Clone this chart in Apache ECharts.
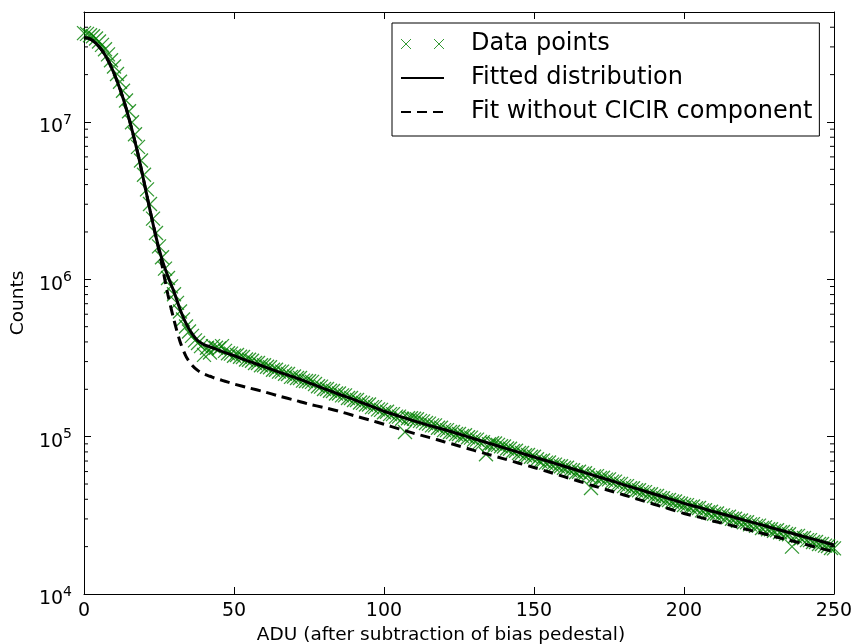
<!DOCTYPE html>
<html>
<head>
<meta charset="utf-8">
<script src="https://cdn.jsdelivr.net/npm/echarts@6/dist/echarts.min.js"></script>
<style>
  html, body { margin: 0; padding: 0; background: #fff; }
  #chart { width: 855px; height: 644px; }
</style>
</head>
<body>
<div id="chart"></div>
<script>
// measured counts, one per ADU value 0..250
const dataCounts = [
  3.67e7, 3.63e7, 3.56e7, 3.51e7, 3.39e7, 3.25e7, 3.09e7, 2.90e7, 2.69e7, 2.47e7,
  2.25e7, 2.02e7, 1.80e7, 1.58e7, 1.37e7, 1.17e7, 9.95e6, 8.36e6, 6.95e6, 5.69e6,
  4.62e6, 3.73e6, 3.01e6, 2.43e6, 1.97e6,
  1.62e6, 1.38e6, 1.17e6, 1.02e6, 9.02e5, 8.04e5, 7.08e5, 6.24e5, 5.56e5, 5.01e5,
  4.66e5, 4.37e5, 4.09e5, 3.94e5, 3.76e5, 3.31e5, 3.67e5, 3.43e5, 3.76e5, 3.67e5,
  3.63e5, 3.76e5, 3.51e5, 3.39e5, 3.37e5, 3.27e5,
  3.30e5, 3.22e5, 3.21e5, 3.09e5, 3.08e5, 3.04e5, 2.94e5, 2.94e5, 2.84e5, 2.84e5,
  2.78e5, 2.76e5, 2.66e5, 2.66e5, 2.59e5, 2.59e5, 2.51e5, 2.50e5, 2.40e5, 2.41e5,
  2.36e5, 2.36e5, 2.27e5, 2.26e5, 2.25e5, 2.23e5, 2.16e5, 2.09e5, 2.08e5, 2.01e5,
  2.01e5, 1.96e5, 1.95e5, 1.88e5, 1.88e5, 1.83e5, 1.83e5, 1.76e5, 1.76e5, 1.71e5,
  1.71e5, 1.65e5, 1.64e5, 1.60e5, 1.60e5, 1.54e5, 1.54e5, 1.49e5, 1.48e5, 1.43e5,
  1.44e5, 1.39e5, 1.39e5, 1.34e5, 1.34e5, 1.30e5, 1.07e5, 1.31e5, 1.31e5, 1.30e5,
  1.29e5, 1.26e5, 1.25e5, 1.22e5, 1.21e5, 1.18e5, 1.18e5, 1.14e5, 1.14e5, 1.10e5,
  1.10e5, 1.07e5, 1.07e5, 1.04e5, 1.04e5, 1.01e5, 1.02e5, 9.91e4, 9.86e4, 9.57e4,
  9.57e4, 9.27e4, 9.23e4, 7.73e4, 8.95e4, 9.08e4, 9.04e4, 8.87e4, 8.69e4, 8.65e4,
  8.41e4, 8.38e4, 8.11e4, 8.13e4, 7.87e4, 7.87e4, 7.62e4, 7.64e4, 7.46e4, 7.46e4,
  7.19e4, 7.00e4, 7.06e4, 6.84e4, 6.85e4, 6.64e4, 6.64e4, 6.49e4, 6.49e4, 6.34e4,
  6.34e4, 6.14e4, 6.11e4, 5.94e4, 5.98e4, 5.82e4, 5.85e4, 5.69e4, 4.72e4, 5.58e4,
  5.61e4, 5.46e4, 5.48e4, 5.33e4, 5.35e4, 5.18e4, 5.18e4, 5.01e4, 5.01e4, 4.85e4,
  4.85e4, 4.70e4, 4.70e4, 4.57e4, 4.56e4, 4.44e4, 4.44e4, 4.30e4, 4.30e4, 4.20e4,
  4.20e4, 4.08e4, 4.06e4, 3.95e4, 3.96e4, 3.87e4, 3.87e4, 3.77e4, 3.75e4, 3.68e4,
  3.67e4, 3.57e4, 3.60e4, 3.51e4, 3.52e4, 3.40e4, 3.41e4, 3.31e4, 3.33e4, 3.24e4,
  3.25e4, 3.15e4, 3.16e4, 3.08e4, 3.10e4, 3.01e4, 3.01e4, 2.92e4, 2.93e4, 2.86e4,
  2.86e4, 2.77e4, 2.78e4, 2.71e4, 2.72e4, 2.63e4, 2.65e4, 2.58e4, 2.58e4, 2.52e4,
  2.54e4, 2.47e4, 2.48e4, 2.41e4, 2.40e4, 2.00e4, 2.33e4, 2.34e4, 2.26e4, 2.27e4,
  2.20e4, 2.20e4, 2.14e4, 2.14e4, 2.08e4, 2.08e4, 2.03e4, 2.02e4, 1.96e4, 1.95e4
];

// fitted curves, sampled along ADU
const fitAdu = [
  0, 2, 4, 6, 8, 10, 12, 14, 16, 18, 20, 22, 24, 26, 28, 30, 32, 34, 36, 38, 40, 42, 44, 46, 48, 50,
  55, 60, 65, 70, 75, 80, 85, 90, 95, 100, 105, 110, 115, 120, 125, 130, 135, 140, 145, 150,
  155, 160, 165, 170, 175, 180, 185, 190, 195, 200, 205, 210, 215, 220, 225, 230, 235, 240, 245, 250
];
const fitCounts = [
  3.44e7, 3.37e7, 3.16e7, 2.85e7, 2.47e7, 2.04e7, 1.62e7, 1.23e7, 8.91e6, 6.24e6, 4.17e6, 2.75e6, 1.86e6,
  1.34e6, 1.04e6, 8.32e5, 6.46e5, 5.25e5, 4.52e5, 4.07e5, 3.85e5, 3.72e5, 3.60e5, 3.48e5, 3.37e5, 3.27e5,
  3.01e5, 2.79e5, 2.57e5, 2.39e5, 2.20e5, 2.02e5, 1.86e5, 1.72e5, 1.58e5, 1.45e5,
  1.35e5, 1.26e5, 1.18e5, 1.11e5, 1.04e5, 9.70e4, 9.08e4, 8.49e4, 7.94e4, 7.43e4,
  6.95e4, 6.49e4, 6.07e4, 5.66e4, 5.30e4, 4.94e4, 4.62e4, 4.32e4, 4.04e4, 3.77e4,
  3.55e4, 3.33e4, 3.14e4, 2.95e4, 2.78e4, 2.61e4, 2.46e4, 2.31e4, 2.18e4, 2.05e4
];
const fitNoCicirCounts = [
  3.44e7, 3.37e7, 3.16e7, 2.85e7, 2.47e7, 2.04e7, 1.62e7, 1.23e7, 8.91e6, 6.24e6, 4.17e6, 2.75e6, 1.86e6,
  1.23e6, 7.94e5, 5.50e5, 4.03e5, 3.24e5, 2.85e5, 2.63e5, 2.50e5, 2.42e5, 2.34e5, 2.28e5, 2.22e5, 2.16e5,
  2.04e5, 1.93e5, 1.81e5, 1.71e5, 1.61e5, 1.53e5, 1.45e5, 1.36e5, 1.28e5, 1.20e5,
  1.12e5, 1.05e5, 9.89e4, 9.29e4, 8.73e4, 8.18e4, 7.69e4, 7.23e4, 6.78e4, 6.37e4,
  5.96e4, 5.57e4, 5.21e4, 4.86e4, 4.55e4, 4.26e4, 3.98e4, 3.72e4, 3.48e4, 3.25e4,
  3.08e4, 2.90e4, 2.75e4, 2.60e4, 2.46e4, 2.32e4, 2.20e4, 2.08e4, 1.96e4, 1.86e4
];

const seriesNames = ['Data points', 'Fitted distribution', 'Fit without CICIR component'];
const yMin = 1e4, yMax = 5e7;

// minor ticks of the log axis: 2..9 times each decade
const minorTicks = [];
for (let d = 1e4; d < yMax; d *= 10) {
  for (let k = 2; k <= 9; k++) {
    if (k * d < yMax) minorTicks.push(k * d);
  }
}

const FONT = 'DejaVu Sans';
const crossPath = 'path://M0,0L10,10M10,0L0,10';
const green = '#008000';
const clear = 'rgba(0,0,0,0)';

const chart = echarts.init(document.getElementById('chart'));

const tickStyle = {show: true, inside: true, length: 7, lineStyle: {color: '#000', width: 1}};
const lineStyleAxis = {show: true, onZero: false, lineStyle: {color: '#000', width: 1}};

const option = {
  animation: false,
  backgroundColor: '#fff',
  textStyle: {fontFamily: FONT},
  // fixed plot box, no auto shrinking for labels
  grid: {left: 84, right: 21, top: 12, bottom: 50, containLabel: false, outerBoundsMode: 'none'},
  legend: {
    orient: 'vertical',
    left: 392,
    top: 23,
    padding: [9, 7, 12, 8],
    itemGap: 10,
    itemWidth: 43,
    itemHeight: 10,
    borderColor: '#000',
    borderWidth: 1,
    borderRadius: 0,
    backgroundColor: '#fff',
    selectedMode: false,
    formatter: '{t|{name}}',
    textStyle: {
      fontFamily: FONT, fontSize: 24, color: '#000',
      rich: {t: {fontFamily: FONT, fontSize: 24, lineHeight: 24, padding: [0, 0, 0, 22], color: '#000'}}
    },
    data: [
      {
        name: seriesNames[0],
        icon: 'path://M0,0L10,10M10,0L0,10M33,0L43,10M43,0L33,10',
        itemStyle: {color: clear, borderColor: green, borderWidth: 1}
      },
      {name: seriesNames[1], itemStyle: {color: clear, borderWidth: 0}},
      {name: seriesNames[2], itemStyle: {color: clear, borderWidth: 0}}
    ]
  },
  xAxis: [
    {
      type: 'value',
      min: 0,
      max: 250,
      interval: 50,
      name: 'ADU (after subtraction of bias pedestal)',
      nameLocation: 'middle',
      nameGap: 30,
      nameTextStyle: {fontFamily: FONT, fontSize: 18.5, color: '#000', padding: [0, 36, 0, 0]},
      axisLine: lineStyleAxis,
      axisTick: tickStyle,
      axisLabel: {fontFamily: FONT, fontSize: 19, color: '#000', margin: 8},
      splitLine: {show: false}
    },
    {
      type: 'value',
      position: 'top',
      min: 0,
      max: 250,
      interval: 50,
      axisLine: lineStyleAxis,
      axisTick: tickStyle,
      axisLabel: {show: false},
      splitLine: {show: false}
    }
  ],
  yAxis: [
    {
      type: 'log',
      logBase: 10,
      min: yMin,
      max: yMax,
      name: 'Counts',
      nameLocation: 'middle',
      nameGap: 53,
      nameTextStyle: {fontFamily: FONT, fontSize: 18.5, color: '#000'},
      axisLine: lineStyleAxis,
      axisTick: tickStyle,
      minorTick: {show: false},
      splitLine: {show: false},
      axisLabel: {
        margin: 12,
        color: '#000',
        padding: [6, 0, 0, 0],
        formatter: (v) => {
          const lg = Math.log10(v);
          const e = Math.round(lg);
          if (Math.abs(lg - e) > 1e-6) return '';
          return '{b|10}{s|' + e + '}';
        },
        rich: {
          b: {fontFamily: FONT, fontSize: 19, lineHeight: 24, verticalAlign: 'bottom', color: '#000'},
          s: {fontFamily: FONT, fontSize: 14, lineHeight: 12, verticalAlign: 'top', color: '#000'}
        }
      }
    },
    {
      type: 'log',
      logBase: 10,
      position: 'right',
      min: yMin,
      max: yMax,
      axisLine: lineStyleAxis,
      axisTick: tickStyle,
      axisLabel: {show: false},
      splitLine: {show: false}
    }
  ],
  series: [
    {
      name: seriesNames[0],
      type: 'scatter',
      symbol: crossPath,
      symbolSize: 14,
      itemStyle: {color: clear, borderColor: green, borderWidth: 1.3},
      emphasis: {disabled: true},
      data: dataCounts.map((c, i) => [i, c])
    },
    {
      name: seriesNames[1],
      type: 'line',
      symbol: 'none',
      smooth: 0.3,
      lineStyle: {color: '#000', width: 3},
      itemStyle: {color: clear},
      data: fitAdu.map((x, i) => [x, fitCounts[i]])
    },
    {
      name: seriesNames[2],
      type: 'line',
      symbol: 'none',
      smooth: 0.3,
      lineStyle: {color: '#000', width: 3, type: [10, 6]},
      itemStyle: {color: clear},
      data: fitAdu.map((x, i) => [x, fitNoCicirCounts[i]])
    },
    {
      // minor ticks on left and right frame
      type: 'custom',
      silent: true,
      z: 10,
      clip: false,
      data: minorTicks.map(v => [0, v]),
      renderItem: (params, api) => {
        const left = api.coord([0, api.value(1)]);
        const right = api.coord([250, api.value(1)]);
        const st = {stroke: '#000', lineWidth: 1};
        return {
          type: 'group',
          children: [
            {type: 'line', shape: {x1: left[0], y1: left[1], x2: left[0] + 4, y2: left[1]}, style: st},
            {type: 'line', shape: {x1: right[0] - 4, y1: right[1], x2: right[0], y2: right[1]}, style: st}
          ]
        };
      }
    }
  ]
};

chart.setOption(option);
</script>
</body>
</html>
